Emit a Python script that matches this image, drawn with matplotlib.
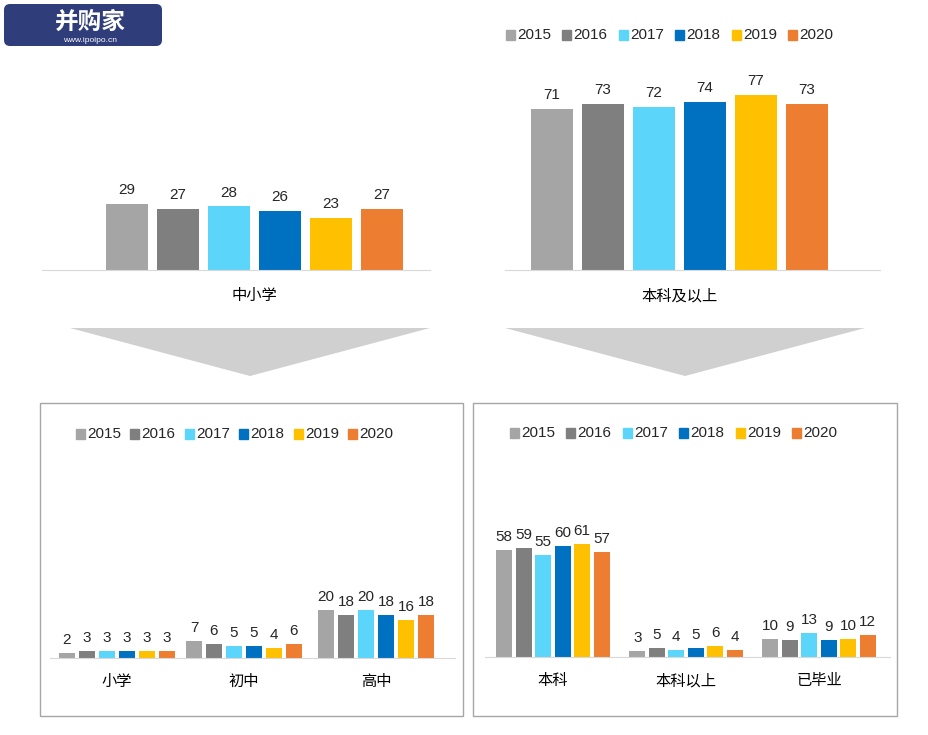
import matplotlib
matplotlib.use("Agg")
import matplotlib.pyplot as plt
import numpy as np
from matplotlib.patches import Polygon, Rectangle, FancyBboxPatch

plt.rcParams['font.family'] = ['Liberation Sans', 'Noto Sans CJK SC', 'DejaVu Sans']

years = ['2015', '2016', '2017', '2018', '2019', '2020']
colors = ['#A5A5A5', '#7F7F7F', '#5BD5F9', '#0070C0', '#FFC000', '#ED7D31']
top_left_cat = '中小学'
top_left_vals = [29, 27, 28, 26, 23, 27]
top_right_cat = '本科及以上'
top_right_vals = [71, 73, 72, 74, 77, 73]
bl_cats = ['小学', '初中', '高中']
bl_vals = [[2, 7, 20], [3, 6, 18], [3, 5, 20], [3, 5, 18], [3, 4, 16], [3, 6, 18]]
br_cats = ['本科', '本科以上', '已毕业']
br_vals = [[58, 3, 10], [59, 5, 9], [55, 4, 13], [60, 5, 9], [61, 6, 10], [57, 4, 12]]

W, H = 929, 735
fig = plt.figure(figsize=(W/100, H/100), dpi=100)

def ax_px(x0, y0, x1, y1):
    return fig.add_axes([x0/W, 1 - y1/H, (x1-x0)/W, (y1-y0)/H])

def style(ax):
    for s in ['top', 'right', 'left']:
        ax.spines[s].set_visible(False)
    ax.spines['bottom'].set_color('#D9D9D9')
    ax.set_yticks([])
    ax.tick_params(axis='x', length=0, labelsize=11, pad=8)

bg = fig.add_axes([0, 0, 1, 1]); bg.set_xlim(0, W); bg.set_ylim(H, 0); bg.axis('off')
bg.add_patch(Polygon([[70, 328], [430, 328], [250, 376]], color='#D0D0D0', ec='none'))
bg.add_patch(Polygon([[505, 328], [865, 328], [685, 376]], color='#D0D0D0', ec='none'))
bg.add_patch(Rectangle((40, 403), 423, 313, fill=False, ec='#A6A6A6', lw=1))
bg.add_patch(Rectangle((473, 403), 424, 313, fill=False, ec='#A6A6A6', lw=1))
bg.add_patch(FancyBboxPatch((4, 4), 158, 42, boxstyle='round,pad=0,rounding_size=6', fc='#2F3D7A', ec='none'))
bg.text(90, 22, '并购家', color='white', fontsize=17, fontweight='bold', ha='center', va='center')
bg.text(90, 40, 'www.ipoipo.cn', color='white', fontsize=6, ha='center', va='center')

def legend(ax_bg, x, y, step):
    for i, (yr, c) in enumerate(zip(years, colors)):
        xx = x + i*step
        ax_bg.add_patch(Rectangle((xx, y-5), 9, 10, color=c))
        ax_bg.text(xx+11, y, yr, fontsize=11, va='center', ha='left', color='#262626')

legend(bg, 506, 35, 56.5)
legend(bg, 76, 434, 54.5)
legend(bg, 510, 433, 56.5)

for (x0, x1, cat, vals, first, last) in [(42, 430, top_left_cat, top_left_vals, 127, 382),
                                          (505, 880, top_right_cat, top_right_vals, 552, 807)]:
    ax = ax_px(x0, 60, x1, 270)
    style(ax)
    x = np.arange(6)
    ax.bar(x, vals, width=0.84, color=colors)
    for xi, v in zip(x, vals):
        ax.text(xi, v + 3, str(v), ha='center', va='bottom', fontsize=11, color='#262626')
    ax.set_ylim(0, 92.5)
    ax.set_xlim(-(first - x0)/51.0, 5 + (x1 - last)/51.0)
    ax.set_xticks([2.5]); ax.set_xticklabels([cat])
    ax.tick_params(axis='x', pad=14)

def bottom(x0, x1, y1, centers, cats, vals, ppu, spacing):
    ax = ax_px(x0, 460, x1, y1)
    style(ax)
    ax.set_ylim(0, (y1-460)/ppu)
    ax.set_xlim(x0, x1)
    for i in range(6):
        xs = [c + (i-2.5)*spacing for c in centers]
        v = [vals[i][j] for j in range(3)]
        ax.bar(xs, v, width=spacing*0.8, color=colors[i])
        for xx, vv in zip(xs, v):
            ax.text(xx, vv + 6/ppu, str(vv), ha='center', va='bottom', fontsize=11, color='#262626')
    ax.set_xticks(centers); ax.set_xticklabels(cats)
    ax.tick_params(axis='x', pad=12)

bottom(50, 455, 658, [117, 244, 376], bl_cats, bl_vals, 2.4, 20)
bottom(485, 890, 657, [553, 686, 819], br_cats, br_vals, 1.85, 19.5)

fig.savefig('out.png', dpi=100)
